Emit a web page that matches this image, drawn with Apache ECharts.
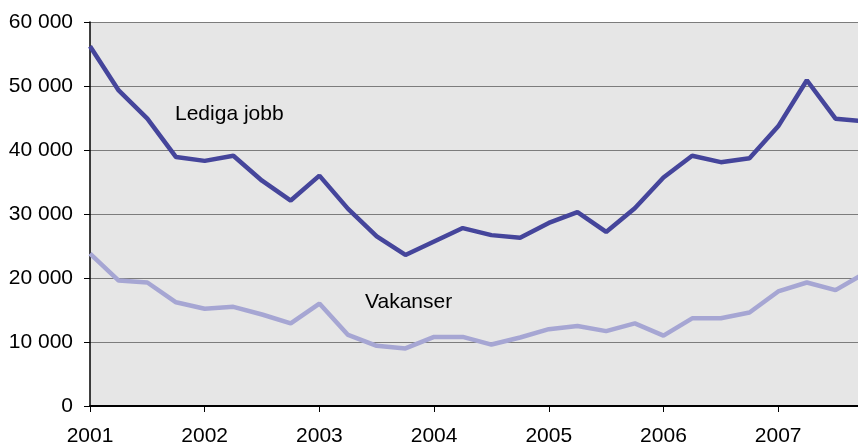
<!DOCTYPE html>
<html>
<head>
<meta charset="utf-8">
<script src="https://cdn.jsdelivr.net/npm/echarts@6/dist/echarts.min.js"></script>
<style>
  html, body { margin: 0; padding: 0; background: #fff; }
  #chart { width: 858px; height: 447px; }
</style>
</head>
<body>
<div id="chart"></div>
<script>
// quarterly values, 2001 Q1 .. 2007 Q4
const startYear = 2001;
const lediga = [56200, 49300, 44900, 38900, 38300, 39100, 35200, 32100,
  36000, 30800, 26500, 23600, 25700, 27800, 26700, 26300,
  28600, 30300, 27200, 30900, 35700, 39100, 38100, 38700,
  43700, 50900, 44900, 44500];
const vakanser = [23800, 19600, 19300, 16200, 15200, 15500, 14300, 12900,
  16000, 11100, 9400, 9000, 10800, 10800, 9600, 10700,
  12000, 12500, 11700, 12900, 11000, 13700, 13700, 14600,
  17900, 19300, 18100, 20700];
const yTicks = [0, 10000, 20000, 30000, 40000, 50000, 60000];

const toPairs = (arr) => arr.map((v, i) => [startYear + i / 4, v]);
const fmt = (v) => String(v).replace(/\B(?=(\d{3})+(?!\d))/g, " ");
const font = "'Liberation Sans', Arial, sans-serif";

const chart = echarts.init(document.getElementById("chart"), null, { renderer: "canvas" });

chart.setOption({
  animation: false,
  backgroundColor: "#ffffff",
  textStyle: { fontFamily: font },
  grid: {
    left: 90, right: 0, top: 22, bottom: 39,
    show: true, backgroundColor: "#e6e6e6", borderWidth: 0,
  },
  xAxis: {
    type: "value",
    min: startYear,
    max: 2007.696,
    interval: 1,
    axisLine: { show: true, onZero: false, lineStyle: { color: "#000", width: 2 } },
    axisTick: { show: true, inside: false, length: 6, lineStyle: { color: "#000" } },
    splitLine: { show: false },
    axisLabel: {
      color: "#000", fontSize: 21, fontFamily: font, margin: 20,
      showMaxLabel: false,
      formatter: (v) => (Number.isInteger(v) ? String(v) : ""),
    },
  },
  yAxis: {
    type: "value",
    min: yTicks[0],
    max: yTicks[yTicks.length - 1],
    interval: 10000,
    axisLine: { show: true, lineStyle: { color: "#000", width: 1.5 } },
    axisTick: { show: true, inside: false, length: 6, lineStyle: { color: "#000" } },
    splitLine: { show: true, lineStyle: { color: "#7c7c7c", width: 1 } },
    axisLabel: { color: "#000", fontSize: 21, fontFamily: font, margin: 17, formatter: fmt },
  },
  series: [
    {
      name: "Vakanser",
      type: "line",
      data: toPairs(vakanser),
      symbol: "none",
      lineStyle: { color: "#a6a6d3", width: 4.5 },
      clip: true,
    },
    {
      name: "Lediga jobb",
      type: "line",
      data: toPairs(lediga),
      symbol: "none",
      lineStyle: { color: "#45459b", width: 4.5 },
      clip: true,
    },
  ],
  graphic: [
    { type: "text", left: 175, top: 104, style: { text: "Lediga jobb", fill: "#000", font: "21px " + font } },
    { type: "text", left: 365, top: 292, style: { text: "Vakanser", fill: "#000", font: "21px " + font } },
  ],
});
</script>
</body>
</html>
